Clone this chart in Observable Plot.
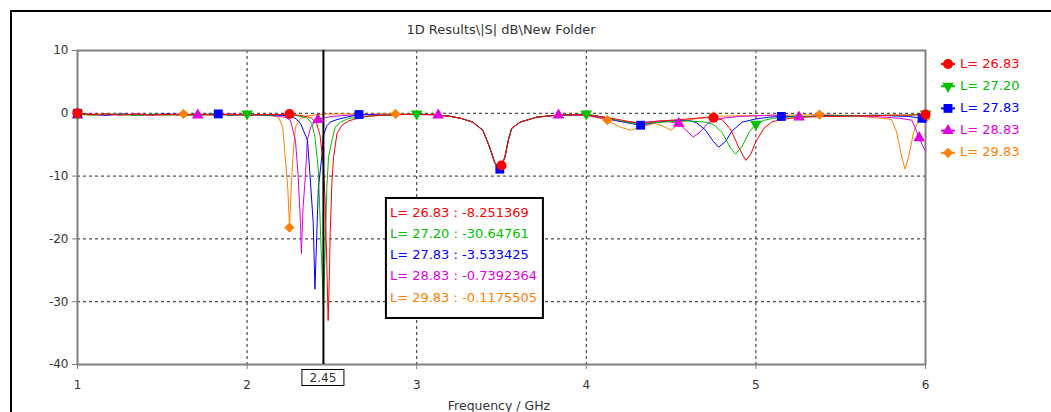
<!DOCTYPE html>
<html><head><meta charset="utf-8">
<script src="https://cdn.jsdelivr.net/npm/d3@7"></script>
<script src="https://cdn.jsdelivr.net/npm/@observablehq/plot@0.6"></script>
<style>html,body{margin:0;padding:0;background:#fff;} svg{display:block}</style>
</head><body><div id="chart"></div>
<script>
// ---------- data ----------
const title = "1D Results\\|S| dB\\New Folder";
const xLabel = "Frequency / GHz";
const xTicks = [1, 2, 3, 4, 5, 6];
const yTicks = [-40, -30, -20, -10, 0, 10];
const seriesNames = ["L= 26.83", "L= 27.20", "L= 27.83", "L= 28.83", "L= 29.83"];
const seriesColors = ["#ff0000", "#00c000", "#0000ff", "#e000e0", "#ff8000"];
const seriesSymbols = ["circle", "triangle", "square", "triangle", "diamond2"];
const seriesRotate = [0, 180, 0, 0, 0];
const cursorFreq = 2.45;
const cursorValues = ["-8.251369", "-30.64761", "-3.533425", "-0.7392364", "-0.1175505"];

// [frequency GHz, |S| dB]
const curveL2683 = [[1.0,0],[1.08,-0.2],[1.17,-0.1],[1.26,-0.3],[1.35,-0.1],[1.44,-0.3],[1.53,-0.15],[1.62,-0.3],[1.71,-0.1],[1.8,-0.3],[1.9,-0.15],[2.0,-0.3],[2.1,-0.2],[2.2,-0.2],[2.25,-0.1],[2.3,-0.3],[2.35,-0.5],[2.38,-0.8],[2.41,-1.6],[2.43,-3.5],[2.45,-8.25],[2.46,-14],[2.47,-24],[2.478,-33],[2.485,-26],[2.49,-19],[2.5,-11],[2.51,-7],[2.53,-3.2],[2.56,-1.9],[2.6,-1.2],[2.65,-0.8],[2.7,-0.5],[2.8,-0.3],[2.9,-0.2],[3.0,-0.15],[3.1,-0.2],[3.2,-0.5],[3.26,-0.8],[3.33,-1.4],[3.39,-2.7],[3.43,-5.4],[3.46,-7.8],[3.48,-8.6],[3.5,-8.3],[3.52,-7],[3.54,-4.3],[3.56,-2.4],[3.61,-1.4],[3.71,-0.6],[3.83,-0.3],[3.95,-0.2],[4.05,-0.4],[4.15,-0.8],[4.25,-1.3],[4.32,-1.6],[4.4,-1.3],[4.5,-1.1],[4.6,-0.9],[4.7,-0.7],[4.75,-0.7],[4.8,-1.0],[4.85,-2.5],[4.9,-5.5],[4.94,-7.5],[4.97,-6.5],[5.0,-4.5],[5.05,-2.3],[5.1,-1.3],[5.2,-0.8],[5.3,-0.6],[5.4,-0.5],[5.5,-0.5],[5.6,-0.4],[5.7,-0.4],[5.8,-0.3],[5.9,-0.3],[6.0,-0.2]];
const curveL2720 = [[1.0,-0.1],[1.08,-0.3],[1.17,-0.1],[1.26,-0.2],[1.35,-0.35],[1.44,-0.1],[1.53,-0.3],[1.62,-0.2],[1.71,-0.35],[1.8,-0.1],[1.9,-0.3],[2.0,-0.1],[2.1,-0.3],[2.2,-0.2],[2.3,-0.4],[2.35,-0.7],[2.38,-1.5],[2.40,-3.8],[2.42,-9],[2.437,-22],[2.45,-30.6],[2.46,-22],[2.47,-12],[2.48,-7],[2.5,-4.3],[2.52,-2.2],[2.55,-1.4],[2.6,-0.8],[2.7,-0.5],[2.8,-0.3],[2.9,-0.2],[3.0,-0.1],[3.1,-0.2],[3.2,-0.5],[3.26,-0.8],[3.33,-1.4],[3.39,-2.7],[3.43,-5.4],[3.46,-7.8],[3.48,-8.7],[3.5,-8.4],[3.52,-7],[3.54,-4.3],[3.56,-2.4],[3.61,-1.4],[3.71,-0.6],[3.83,-0.3],[4.0,-0.1],[4.1,-0.6],[4.2,-1.2],[4.3,-1.7],[4.4,-1.5],[4.5,-1.3],[4.6,-1.2],[4.7,-1.4],[4.75,-1.8],[4.8,-3],[4.85,-5.5],[4.88,-6.5],[4.92,-5.2],[4.96,-3],[5.0,-1.7],[5.05,-1.1],[5.1,-0.8],[5.2,-0.6],[5.3,-0.5],[5.4,-0.5],[5.5,-0.4],[5.6,-0.4],[5.7,-0.3],[5.8,-0.3],[5.9,-0.3],[6.0,-0.1]];
const curveL2783 = [[1.0,0],[1.08,-0.2],[1.17,-0.3],[1.26,-0.1],[1.35,-0.3],[1.44,-0.2],[1.53,-0.1],[1.62,-0.3],[1.71,-0.2],[1.83,-0.1],[1.9,-0.3],[2.0,-0.2],[2.1,-0.3],[2.2,-0.3],[2.26,-0.5],[2.29,-0.9],[2.315,-1.6],[2.356,-4.3],[2.37,-9.5],[2.39,-17.5],[2.40,-28],[2.41,-20],[2.42,-12],[2.44,-7],[2.45,-3.5],[2.47,-2],[2.49,-1.4],[2.53,-1.0],[2.59,-0.6],[2.66,-0.2],[2.8,-0.3],[2.9,-0.2],[3.0,-0.15],[3.1,-0.2],[3.2,-0.5],[3.26,-0.8],[3.33,-1.4],[3.39,-2.7],[3.43,-5.4],[3.46,-7.9],[3.49,-8.9],[3.52,-7],[3.54,-4.3],[3.56,-2.4],[3.61,-1.4],[3.71,-0.6],[3.83,-0.3],[4.0,-0.2],[4.1,-0.6],[4.2,-1.3],[4.32,-1.9],[4.4,-1.5],[4.5,-1.2],[4.6,-1.1],[4.65,-1.5],[4.7,-2.6],[4.75,-4.5],[4.78,-5.4],[4.82,-4.5],[4.86,-2.8],[4.92,-1.4],[5.0,-0.9],[5.08,-0.6],[5.15,-0.5],[5.3,-0.5],[5.4,-0.4],[5.5,-0.4],[5.6,-0.4],[5.7,-0.3],[5.8,-0.4],[5.9,-0.5],[5.98,-0.8],[6.0,-0.8]];
const curveL2883 = [[1.0,-0.3],[1.08,-0.1],[1.17,-0.3],[1.26,-0.2],[1.35,-0.1],[1.44,-0.3],[1.53,-0.2],[1.62,-0.1],[1.709,-0.3],[1.8,-0.2],[1.9,-0.1],[2.0,-0.3],[2.1,-0.2],[2.2,-0.5],[2.23,-0.7],[2.255,-1.1],[2.285,-4.3],[2.30,-9.5],[2.315,-17.5],[2.32,-22.3],[2.33,-15],[2.345,-9.5],[2.355,-4.3],[2.375,-2.2],[2.395,-1.5],[2.418,-1.0],[2.45,-0.74],[2.5,-0.5],[2.6,-0.3],[2.7,-0.2],[2.8,-0.3],[2.9,-0.2],[3.0,-0.2],[3.127,-0.3],[3.2,-0.5],[3.26,-0.8],[3.33,-1.4],[3.39,-2.7],[3.43,-5.4],[3.46,-7.8],[3.48,-8.7],[3.5,-8.4],[3.52,-7],[3.54,-4.3],[3.56,-2.4],[3.61,-1.4],[3.71,-0.6],[3.836,-0.3],[4.0,-0.3],[4.1,-0.8],[4.2,-1.3],[4.3,-1.5],[4.4,-1.3],[4.45,-1.2],[4.545,-1.6],[4.6,-3.0],[4.63,-3.8],[4.67,-3.0],[4.72,-1.5],[4.8,-0.8],[4.9,-0.5],[5.0,-0.4],[5.1,-0.3],[5.254,-0.6],[5.4,-0.4],[5.5,-0.4],[5.6,-0.4],[5.7,-0.5],[5.8,-0.7],[5.85,-0.8],[5.92,-1.1],[5.963,-3.9],[5.98,-5],[6.0,-6]];
const curveL2983 = [[1.0,-0.1],[1.08,-0.3],[1.17,-0.2],[1.26,-0.1],[1.35,-0.3],[1.44,-0.2],[1.53,-0.3],[1.625,-0.1],[1.7,-0.3],[1.8,-0.2],[1.9,-0.3],[2.0,-0.2],[2.1,-0.3],[2.15,-0.4],[2.185,-0.6],[2.21,-2.2],[2.225,-7],[2.24,-12],[2.25,-18.2],[2.26,-12],[2.27,-7],[2.285,-2.2],[2.315,-0.8],[2.35,-0.4],[2.45,-0.12],[2.6,-0.1],[2.7,-0.2],[2.8,-0.1],[2.875,-0.1],[3.0,-0.2],[3.1,-0.2],[3.2,-0.5],[3.26,-0.8],[3.33,-1.4],[3.39,-2.7],[3.43,-5.4],[3.46,-7.8],[3.48,-8.6],[3.5,-8.4],[3.52,-7],[3.54,-4.3],[3.56,-2.4],[3.61,-1.4],[3.71,-0.6],[3.83,-0.3],[4.0,-0.3],[4.125,-1.1],[4.2,-2.2],[4.26,-2.7],[4.32,-2.2],[4.4,-1.6],[4.45,-2.0],[4.5,-2.7],[4.56,-1.4],[4.65,-0.8],[4.75,-0.5],[4.9,-0.4],[5.0,-0.4],[5.1,-0.3],[5.2,-0.3],[5.375,-0.2],[5.5,-0.3],[5.6,-0.4],[5.7,-0.7],[5.75,-0.8],[5.8,-1.0],[5.83,-3],[5.86,-7],[5.88,-8.9],[5.9,-7],[5.93,-3],[5.96,-1],[6.0,-0.8]];

// frequencies at which each series carries a marker (points of the curve above)
const markersL2683 = [1.0, 2.25, 3.5, 4.75, 6.0];
const markersL2720 = [1.0, 2.0, 3.0, 4.0, 5.0, 6.0];
const markersL2783 = [1.0, 1.83, 2.66, 3.49, 4.32, 5.15, 5.98];
const markersL2883 = [1.0, 1.709, 2.418, 3.127, 3.836, 4.545, 5.254, 5.963];
const markersL2983 = [1.0, 1.625, 2.25, 2.875, 3.5, 4.125, 4.75, 5.375, 6.0];

// ---------- chart ----------
const curves = [curveL2683, curveL2720, curveL2783, curveL2883, curveL2983];
const markerSets = [markersL2683, markersL2720, markersL2783, markersL2883, markersL2983];
const rows = curves.map((c, i) => c.map(([f, v]) => ({f, v, s: i})));
const markerRows = rows.map((r, i) => r.filter(d => markerSets[i].includes(d.f)));
const drawOrder = [4, 3, 2, 1, 0];
const FONT = "DejaVu Sans";
const W = 1051, H = 412;
const symR = s => s === "triangle" ? 4.3 : (s === "diamond2" ? 4.6 : 5);

const plot = Plot.plot({
  width: W, height: H,
  marginLeft: 77, marginRight: 126, marginTop: 50, marginBottom: 48,
  style: {fontFamily: FONT, fontSize: "12px", background: "#fff", color: "#333"},
  x: {domain: [1, 6]},
  y: {domain: [-40, 10]},
  marks: [
    Plot.gridX(xTicks.slice(1, -1), {stroke: "#000", strokeOpacity: 0.85, strokeDasharray: "3,3"}),
    Plot.gridY(yTicks.slice(1, -1), {stroke: "#000", strokeOpacity: 0.85, strokeDasharray: "3,3"}),
    Plot.axisX(xTicks, {tickSize: 5, tickPadding: 11, stroke: "#808080", fill: "#333", fontSize: 12, label: null, tickFormat: d => String(d)}),
    Plot.axisY(yTicks, {tickSize: 5, tickPadding: 4, stroke: "#808080", fill: "#333", fontSize: 12, label: null, tickFormat: d => String(d)}),
    Plot.frame({stroke: "#808080", strokeWidth: 2}),
    ...drawOrder.map(i => Plot.line(rows[i], {x: "f", y: "v", stroke: seriesColors[i], strokeWidth: 1})),
    Plot.ruleX([cursorFreq], {stroke: "#000", strokeWidth: 2}),
    ...drawOrder.map(i => Plot.dot(markerRows[i], {
      x: "f", y: "v", symbol: seriesSymbols[i], fill: seriesColors[i], stroke: "none",
      r: symR(seriesSymbols[i]), rotate: seriesRotate[i]
    }))
  ]
});
document.getElementById("chart").appendChild(plot);

const svg = d3.select(plot);
const xs = plot.scale("x"), ys = plot.scale("y");
const px = v => xs.apply(v), py = v => ys.apply(v);
const addText = (g, x, y, str, size, fill, anchor) => g.append("text")
  .attr("x", x).attr("y", y).attr("text-anchor", anchor).attr("dominant-baseline", "middle")
  .attr("font-family", FONT).attr("font-size", size).attr("fill", fill).text(str);

// outer window frame
svg.append("line").attr("x1", 10).attr("x2", W).attr("y1", 11).attr("y2", 11).attr("stroke", "#000").attr("stroke-width", 2);
svg.append("line").attr("x1", 11).attr("x2", 11).attr("y1", 10).attr("y2", H).attr("stroke", "#000").attr("stroke-width", 2);

// title and x label
const midX = (px(1) + px(6)) / 2;
addText(svg, midX, 30, title, 13, "#333", "middle");
addText(svg, midX - 2, 406, xLabel, 12.5, "#333", "middle");

// cursor value box on the axis
const cx = px(cursorFreq);
const cb = svg.append("g");
cb.append("rect").attr("x", cx - 21).attr("y", py(-40) + 5.5).attr("width", 42).attr("height", 16)
  .attr("fill", "#fff").attr("stroke", "#000").attr("stroke-width", 1);
addText(cb, cx, py(-40) + 14, String(cursorFreq), 12, "#333", "middle");

// cursor readout box
const bx = cx + 63, by = 198;
const tb = svg.append("g");
tb.append("rect").attr("x", bx).attr("y", by).attr("width", 157).attr("height", 120)
  .attr("fill", "#fff").attr("stroke", "#000").attr("stroke-width", 2);
seriesNames.forEach((n, i) => addText(tb, bx + 4, by + 15 + i * 21.3, `${n} : ${cursorValues[i]}`, 13, seriesColors[i], "start"));

// legend
const symMap = {circle: d3.symbolCircle, triangle: d3.symbolTriangle, square: d3.symbolSquare, diamond2: d3.symbolDiamond2};
const lg = svg.append("g");
seriesNames.forEach((n, i) => {
  const y = 64 + i * 22.2;
  lg.append("line").attr("x1", 941).attr("x2", 955).attr("y1", y).attr("y2", y).attr("stroke", seriesColors[i]).attr("stroke-width", 2);
  const r = symR(seriesSymbols[i]);
  lg.append("path").attr("d", d3.symbol(symMap[seriesSymbols[i]], Math.PI * r * r)())
    .attr("transform", `translate(948,${y}) rotate(${seriesRotate[i]})`).attr("fill", seriesColors[i]);
  addText(lg, 960, y, n, 13, seriesColors[i], "start");
});
</script>
</body></html>
